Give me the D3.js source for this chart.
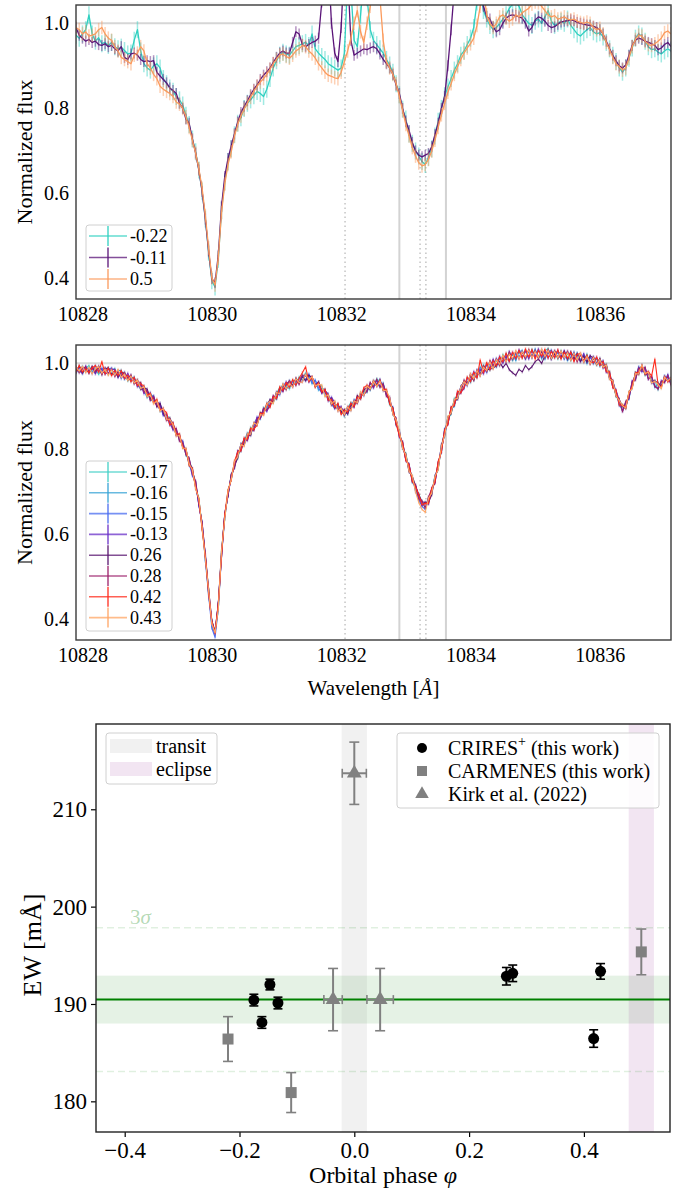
<!DOCTYPE html>
<html><head><meta charset="utf-8">
<script src="https://cdn.jsdelivr.net/npm/d3@7"></script>
<style>body{margin:0;background:#fff;} svg{display:block;} text{font-family:"Liberation Serif","Times New Roman",serif !important;}</style>
</head><body><svg id="c" width="688" height="1191"></svg>
<script>
// ---------------- DATA ----------------
// wavelength grid of the spectra (Angstrom): start and pixel step
const waveStart = 10827.9, waveStep = 0.05;
// fluxes in thousandths of normalized flux
// top panel (CARMENES) phases
const topLabels = ["-0.22", "-0.11", "0.5"];
const fluxTopM022 = [
972,965,975,985,1020,975,958,966,952,955, 948,955,945,940,944,936,928,930,960,985,
935,905,895,890,900,905,895,870,858,848, 840,828,820,808,784,762,728,698,655,605,
540,462,395,380,445,560,628,675,705,738, 765,778,800,812,820,830,840,835,828,845,
870,895,912,925,932,928,925,935,945,948, 952,955,948,975,940,930,922,915,905,900,
895,890,895,930,1100,1080,960,945,1020,1100, 1060,985,960,950,940,930,915,902,885,858,
832,798,775,740,718,700,688,675,668,685, 705,735,770,800,830,850,870,890,905,925,
935,950,965,990,1050,1080,1030,1010,995,985, 990,1000,1010,1020,1035,1045,1050,1040,1020,1010,
1000,995,1005,1010,1000,1015,1030,1005,995,1000, 1005,1000,1010,995,985,975,970,978,985,990,
980,975,978,968,955,940,925,910,895,885, 895,918,942,965,975,970,958,945,938,940,
932,928,935,940,935];
const fluxTopM011 = [
990,972,965,958,962,955,958,950,948,952, 945,948,940,935,945,920,915,928,930,925,
915,910,912,910,912,885,876,868,860,848, 842,835,812,800,775,765,728,695,655,605,
540,465,400,390,455,570,640,682,712,740, 768,790,805,818,832,845,855,868,878,886,
895,908,920,930,935,930,930,955,980,975, 950,945,950,955,958,965,1050,1200,1150,1000,
930,910,990,1150,1120,960,925,930,935,940, 938,942,945,940,928,915,905,895,880,855,
835,800,770,748,720,700,690,686,690,694, 710,738,765,800,828,900,985,1080,1250,1300,
1300,1300,1300,1300,1300,1150,1040,1016,1010,992, 980,985,1000,1012,1018,1020,1018,1015,1012,1000,
982,990,1008,1015,1012,1005,995,990,992,998, 1003,1005,1006,1008,1006,1002,1000,998,996,995,
993,990,985,975,958,940,925,912,900,895, 902,925,948,960,965,962,958,955,952,948,
938,942,950,955,945];
const fluxTop05 = [
990,985,975,980,970,972,975,985,990,975, 965,960,945,935,920,915,910,905,925,930,
945,935,905,895,880,870,852,845,840,835, 828,815,810,800,780,755,725,695,658,612,
548,472,402,385,448,555,622,668,698,735, 762,782,798,812,826,840,852,862,870,880,
892,905,915,925,928,922,918,925,935,940, 948,945,935,928,918,905,895,885,878,875,
872,870,885,910,935,965,1000,1030,980,955, 1000,1040,1080,1100,1060,960,910,895,880,858,
828,795,762,735,708,688,672,665,668,680, 700,725,755,785,812,838,858,880,898,915,
930,942,952,965,995,1040,1080,1020,1000,990, 1000,1015,1020,1012,1005,1010,1020,1015,1025,1030,
1035,1045,1050,1048,1040,1030,1020,1015,1018,1010, 1012,1015,1010,1008,1010,1005,1002,1000,1003,1000,
990,985,988,975,955,938,920,905,898,890, 895,918,945,962,972,970,958,950,948,952,
958,965,978,982,975];
const topErrors = [0.020, 0.013, 0.016];

// bottom panel (CRIRES+) phases
const botLabels = ["-0.17","-0.16","-0.15","-0.13","0.26","0.28","0.42","0.43"];
const fluxBotM017 = [
980,992,976,988,995,980,987,974,988,983, 974,984,988,970,972,979,959,967,965,948,
954,935,920,927,923,900,900,879,879,871, 846,844,821,817,785,773,751,710,684,617,
549,459,397,370,422,561,636,702,727,765, 777,807,823,824,850,845,867,870,896,895,
912,907,929,944,938,949,940,960,953,968, 960,978,959,963,945,952,947,924,922,903,
910,891,892,876,896,908,902,920,918,937, 932,952,948,964,957,939,937,903,893,860,
840,800,789,751,736,703,694,674,661,685, 697,736,751,805,832,870,881,918,920,941,
959,952,969,960,982,977,996,982,1000,991, 1007,996,1021,1007,1023,1006,1022,1028,1013,1031,
1013,1033,1016,1031,1010,1029,1035,1012,1026,1010, 1030,1012,1023,1006,1024,1011,1022,1005,1022,1000,
1013,996,1010,993,998,966,956,922,913,902, 896,933,946,979,976,993,972,978,959,960,
938,956,957,973,954];
const fluxBotM016 = [
988,979,993,983,980,992,981,989,974,988, 989,975,975,983,984,963,972,958,968,949,
940,947,934,914,911,913,888,893,870,866, 859,835,833,803,797,761,748,722,669,628,
540,472,386,365,436,551,648,690,738,755, 792,794,818,837,834,859,855,881,883,907,
899,920,916,938,951,941,960,949,963,955, 973,962,970,952,960,937,942,938,915,918,
898,904,883,889,881,901,913,907,931,929, 946,937,958,951,945,954,925,918,881,867,
829,815,775,762,721,711,679,668,675,673, 706,723,767,792,847,860,894,899,932,934,
943,967,955,976,967,992,980,997,984,1007, 991,1012,1003,1023,1006,1022,1006,1027,1030,1014,
1030,1016,1034,1012,1029,1009,1027,1031,1013,1026, 1011,1027,1006,1023,1009,1025,1008,1020,999,1015,
999,1011,993,1005,982,981,945,936,904,889, 909,916,956,962,992,983,990,965,968,943,
952,943,970,960,963];
const fluxBotM015 = [
976,990,991,980,988,976,995,981,989,975, 986,989,971,980,964,977,965,972,953,960,
942,944,921,932,909,909,906,880,880,855, 861,832,830,805,800,765,737,719,668,625,
537,458,380,358,424,550,637,699,729,768, 781,811,808,832,832,858,873,871,890,889,
914,911,931,926,946,957,944,958,948,964, 970,960,975,955,961,943,930,936,929,905,
894,900,897,879,893,890,915,911,931,924, 948,941,957,946,963,941,935,906,897,855,
843,801,785,747,734,700,681,665,658,682, 694,737,756,807,830,872,886,915,916,946,
956,947,973,965,985,971,991,978,1004,994, 1012,999,1014,1002,1028,1009,1024,1015,1029,1009,
1028,1012,1031,1016,1033,1014,1027,1009,1029,1024, 1026,1009,1027,1012,1027,1007,1020,1002,1015,1002,
1016,1000,1009,989,992,964,958,935,901,899, 897,931,942,977,977,997,977,980,953,958,
953,945,971,962,966];
const fluxBotM013 = [
992,983,976,994,981,988,975,990,985,976, 977,986,986,967,979,964,977,960,966,945,
951,929,937,918,924,900,902,878,881,861, 844,845,820,818,788,777,739,720,667,626,
551,461,394,367,435,548,646,689,736,757, 795,796,820,819,844,844,874,871,893,888,
901,923,918,941,934,952,957,945,960,954, 957,973,956,968,950,956,933,934,912,921,
908,889,898,882,884,906,897,921,920,940, 934,954,942,960,946,951,926,921,882,870,
828,813,772,764,725,713,690,667,673,670, 708,721,765,794,845,857,895,903,933,932,
941,965,960,981,968,986,975,998,989,1010, 993,1017,1000,1018,1004,1026,1011,1032,1015,1029,
1010,1030,1015,1034,1013,1028,1012,1030,1015,1031, 1014,1030,1010,1024,1006,1020,1004,1023,1003,1017,
1000,1014,998,1006,979,978,944,937,914,888, 907,918,959,964,991,980,988,963,969,947,
941,959,956,974,951];
const fluxBot026 = [
981,994,978,988,977,991,980,994,976,986, 990,974,982,968,980,976,961,970,955,962,
939,942,940,916,919,898,907,884,868,872, 857,831,832,804,798,766,754,708,680,614,
552,470,398,372,438,558,645,691,739,759, 779,811,810,834,831,860,860,885,881,902,
915,909,933,931,950,938,955,947,966,953, 969,959,972,967,946,957,933,939,916,917,
895,905,885,892,881,903,900,925,917,938, 944,939,960,949,961,936,936,908,895,857,
841,802,787,746,735,714,692,676,674,674, 692,734,753,809,833,874,883,912,916,945,
958,953,975,961,981,972,994,984,987,988, 996,1004,990,1000,985,978,972,986,980,995,
985,992,1004,1010,1000,1018,1028,1010,1024,1015, 1015,1028,1010,1027,1010,1023,1004,1017,1003,1018,
1012,997,1012,992,995,967,960,924,915,899, 894,930,944,978,974,995,974,977,956,959,
954,946,968,958,963];
const fluxBot028 = [
990,978,987,992,980,993,981,990,973,990, 975,987,969,981,971,979,963,973,952,957,
955,933,936,913,921,902,892,895,866,870, 847,848,818,813,786,778,741,724,670,627,
548,471,396,371,436,552,647,692,737,756, 794,798,824,821,845,843,870,872,895,891,
902,924,919,942,935,951,959,948,962,951, 972,972,959,969,949,953,931,935,927,902,
909,892,897,878,899,892,911,906,929,927, 935,955,945,963,944,952,923,917,882,871,
831,816,774,763,723,715,681,678,661,687, 705,719,768,795,844,859,898,902,930,930,
961,950,971,960,984,974,992,981,1007,993, 1010,994,1016,1006,1027,1009,1028,1010,1026,1011,
1033,1015,1030,1011,1028,1013,1033,1015,1030,1012, 1028,1014,1029,1008,1022,1003,1021,1006,1019,998,
1015,999,1008,990,997,965,957,925,917,887, 911,919,957,961,989,984,991,963,970,946,
940,958,955,971,949];
const fluxBot042 = [
979,995,980,987,978,989,995,979,1004,975, 989,971,983,972,983,965,972,957,967,948,
952,947,925,930,907,916,892,892,884,856, 861,834,835,803,799,761,753,709,682,611,
547,462,393,369,434,550,645,703,726,771, 792,795,825,823,848,846,855,883,882,906,
897,921,918,945,938,955,944,962,949,965, 978,992,958,966,944,954,934,939,914,915,
897,906,880,890,886,907,899,921,917,943, 949,942,957,947,960,939,939,905,894,858,
830,812,773,761,725,710,693,669,672,672, 707,724,769,793,843,858,896,903,935,932,
944,968,957,979,966,1008,978,1002,985,1006, 994,1015,1004,1024,1005,1026,1012,1030,1012,1034,
1015,1032,1010,1030,1017,1033,1013,1028,1013,1032, 1010,1026,1012,1026,1004,1021,1023,1004,1018,1003,
1002,1015,995,1004,981,980,943,937,902,903, 896,932,945,978,979,994,975,981,970,1010,
950,944,969,957,964];
const fluxBot043 = [
991,982,993,978,991,975,988,992,977,986, 972,985,972,986,967,975,960,970,954,961,
941,945,922,926,905,912,888,894,869,869, 856,830,831,801,801,764,750,706,683,615,
542,469,390,369,424,561,635,701,728,770, 781,810,806,835,834,861,856,880,878,904,
911,906,932,929,952,940,954,944,964,955, 956,974,961,969,947,951,949,922,926,905,
912,888,895,880,898,889,912,908,934,925, 947,940,959,946,958,937,936,920,881,868,
842,801,786,747,737,699,674,658,651,684, 696,735,751,806,831,875,884,916,918,944,
957,949,976,964,983,970,991,983,1004,987, 1009,998,1019,1003,1021,1012,1030,1011,1027,1015,
1031,1013,1028,1014,1034,1016,1030,1011,1028,1013, 1029,1013,1025,1007,1024,1008,1024,1003,1016,999,
1014,997,1009,991,996,963,959,924,913,901, 895,933,941,976,975,997,976,979,954,958,
951,941,968,959,966];
const botErrors = [0.004,0.004,0.004,0.004,0.004,0.004,0.004,0.004];

// spectral markers (Angstrom)
const waveTicks = [10828, 10830, 10832, 10834, 10836];
const fluxTicks = [0.4, 0.6, 0.8, 1.0];
const heTriplet = [10832.06, 10833.22, 10833.31];
const integrationEdges = [10832.90, 10833.62];

// equivalent widths (mA) vs orbital phase
const crPhase = [-0.175, -0.161, -0.147, -0.133, 0.265, 0.276, 0.417, 0.429];
const crEW    = [190.4, 188.1, 192.0, 190.1, 192.85, 193.15, 186.45, 193.35];
const crErr   = [0.6, 0.6, 0.55, 0.6, 0.9, 0.85, 0.9, 0.8];
const carPhase = [-0.22, -0.11, 0.5];
const carEW    = [186.4, 180.9, 195.35];
const carErr   = [2.3, 2.05, 2.35];
const kirkPhase    = [-0.037, 0.0, 0.045];
const kirkEW       = [190.45, 213.7, 190.45];
const kirkErr      = [3.2, 3.2, 3.2];
const kirkPhaseErr = [0.016, 0.021, 0.023];
const ewMean = 190.45, ewSigma = 2.46;
const transitWindow = [-0.022, 0.022];
const eclipseWindow = [0.478, 0.522];
const phaseTicks = [-0.4, -0.2, 0.0, 0.2, 0.4];
const ewTicks = [180, 190, 200, 210];

// ---------------- STYLE ----------------
const topColors = ["#2fd0c0", "#5a1478", "#fb9a5c"];
const botColors = ["#42cfc6", "#36a3d6", "#4a6cf0", "#6a30c8", "#5a1670", "#9c1f6a", "#ff2b1c", "#ffa564"];

const svg = d3.select("#c");
const defs = svg.append("defs");

function specPanel(top, bottom, fluxes, errs, colors, labels, errOpacity, lineW, legendBox) {
  const L = 76, R = 671;
  const x = d3.scaleLinear().domain([10827.9, 10837.1]).range([L, R]);
  const y = d3.scaleLinear().domain([0.352, 1.043]).range([bottom, top]);
  const cid = "clip" + top;
  defs.append("clipPath").attr("id", cid).append("rect")
    .attr("x", L).attr("y", top).attr("width", R - L).attr("height", bottom - top);
  const g = svg.append("g");
  const ref = g.append("g").attr("clip-path", `url(#${cid})`);
  ref.append("line").attr("x1", L).attr("x2", R).attr("y1", y(1)).attr("y2", y(1))
    .attr("stroke", "#d6d6d6").attr("stroke-width", 2);
  ref.selectAll(".edge").data(integrationEdges).join("line")
    .attr("x1", d => x(d)).attr("x2", d => x(d)).attr("y1", top).attr("y2", bottom)
    .attr("stroke", "#d3d3d3").attr("stroke-width", 2);
  ref.selectAll(".he").data(heTriplet).join("line")
    .attr("x1", d => x(d)).attr("x2", d => x(d)).attr("y1", top).attr("y2", bottom)
    .attr("stroke", "#c4c4c4").attr("stroke-width", 1.5).attr("stroke-dasharray", "1.5,3");

  const plot = g.append("g").attr("clip-path", `url(#${cid})`);
  const wl = i => waveStart + i * waveStep;
  const line = d3.line().x((d, i) => x(wl(i))).y(d => y(d / 1000));
  fluxes.forEach((f, k) => {
    const s = plot.append("g");
    s.selectAll("line").data(f).join("line")
      .attr("x1", (d, i) => x(wl(i))).attr("x2", (d, i) => x(wl(i)))
      .attr("y1", d => y(d / 1000 - errs[k])).attr("y2", d => y(d / 1000 + errs[k]))
      .attr("stroke", colors[k]).attr("stroke-opacity", errOpacity).attr("stroke-width", 1.5);
    s.append("path").datum(f).attr("d", line).attr("fill", "none")
      .attr("stroke", colors[k]).attr("stroke-width", lineW).attr("stroke-linejoin", "round");
  });

  // axes
  const xa = g.append("g").attr("transform", `translate(0,${bottom})`)
    .call(d3.axisBottom(x).tickValues(waveTicks).tickFormat(d3.format("d")).tickSize(0).tickPadding(8));
  const ya = g.append("g").attr("transform", `translate(${L},0)`)
    .call(d3.axisLeft(y).tickValues(fluxTicks).tickFormat(d3.format(".1f")).tickSize(0).tickPadding(7));
  [xa, ya].forEach(a => {
    a.select(".domain").remove();
    a.selectAll("text").attr("font-size", 20).attr("fill", "#000");
  });
  g.append("text").attr("transform", `translate(24,${(top + bottom) / 2}) rotate(-90)`)
    .attr("text-anchor", "middle").attr("dominant-baseline", "central")
    .attr("font-size", 22).text("Normalized flux");
  g.append("rect").attr("x", L).attr("y", top).attr("width", R - L).attr("height", bottom - top)
    .attr("fill", "none").attr("stroke", "#3a3a3a").attr("stroke-width", 1.4);

  // legend
  const lg = g.append("g");
  lg.append("rect").attr("x", legendBox[0]).attr("y", legendBox[1])
    .attr("width", legendBox[2]).attr("height", legendBox[3]).attr("rx", 3)
    .attr("fill", "#fff").attr("fill-opacity", 0.85).attr("stroke", "#d0d0d0");
  labels.forEach((lab, k) => {
    const yy = legendBox[1] + 11 + k * legendBox[4];
    lg.append("line").attr("x1", 89).attr("x2", 127).attr("y1", yy).attr("y2", yy)
      .attr("stroke", colors[k]).attr("stroke-width", 1.6).attr("stroke-opacity", 0.75);
    lg.append("line").attr("x1", 108).attr("x2", 108).attr("y1", yy - 10).attr("y2", yy + 10)
      .attr("stroke", colors[k]).attr("stroke-width", 1.3);
    lg.append("text").attr("x", 130).attr("y", yy).attr("dominant-baseline", "central")
      .attr("font-size", 18).text(lab);
  });
  return g;
}

specPanel(5, 299, [fluxTopM022, fluxTopM011, fluxTop05], topErrors, topColors, topLabels,
  0.45, 1.3, [86, 225, 86, 66, 21.5]);
specPanel(345, 640,
  [fluxBotM017, fluxBotM016, fluxBotM015, fluxBotM013, fluxBot026, fluxBot028, fluxBot042, fluxBot043],
  botErrors, botColors, botLabels, 0.3, 1.1, [86, 461, 86, 170, 20.8]);

svg.append("text").attr("x", 373.5).attr("y", 688).attr("text-anchor", "middle")
  .attr("dominant-baseline", "central").attr("font-size", 21)
  .call(t => { t.append("tspan").text("Wavelength ["); t.append("tspan").attr("font-style", "italic").text("Å"); t.append("tspan").text("]"); });

// ---------------- EW panel ----------------
(function () {
  const L = 96, R = 670, T = 724, B = 1132;
  const x = d3.scaleLinear().domain([-0.45, 0.55]).range([L, R]);
  const y = d3.scaleLinear().domain([176.85, 218.76]).range([B, T]);
  defs.append("clipPath").attr("id", "clipEW").append("rect")
    .attr("x", L).attr("y", T).attr("width", R - L).attr("height", B - T);
  const g = svg.append("g");
  const bg = g.append("g").attr("clip-path", "url(#clipEW)");
  bg.append("rect").attr("x", L).attr("width", R - L)
    .attr("y", y(ewMean + ewSigma)).attr("height", y(ewMean - ewSigma) - y(ewMean + ewSigma))
    .attr("fill", "#008000").attr("fill-opacity", 0.1);
  bg.append("rect").attr("x", x(transitWindow[0])).attr("width", x(transitWindow[1]) - x(transitWindow[0]))
    .attr("y", T).attr("height", B - T).attr("fill", "#808080").attr("fill-opacity", 0.11);
  bg.append("rect").attr("x", x(eclipseWindow[0])).attr("width", x(eclipseWindow[1]) - x(eclipseWindow[0]))
    .attr("y", T).attr("height", B - T).attr("fill", "#800080").attr("fill-opacity", 0.1);
  [ewMean + 3 * ewSigma, ewMean - 3 * ewSigma].forEach(v => {
    bg.append("line").attr("x1", L).attr("x2", R).attr("y1", y(v)).attr("y2", y(v))
      .attr("stroke", "#008000").attr("stroke-opacity", 0.12).attr("stroke-width", 1.6)
      .attr("stroke-dasharray", "7,4");
  });
  bg.append("line").attr("x1", L).attr("x2", R).attr("y1", y(ewMean)).attr("y2", y(ewMean))
    .attr("stroke", "#008000").attr("stroke-width", 2);
  g.append("text").attr("x", 130).attr("y", y(ewMean + 3 * ewSigma) - 11)
    .attr("dominant-baseline", "central").attr("font-size", 21).attr("fill", "#008000").attr("fill-opacity", 0.3)
    .call(t => { t.append("tspan").text("3"); t.append("tspan").attr("font-style", "italic").text("σ"); });

  function errY(sel, px, py, pe, col, cap) {
    px.forEach((p, i) => {
      sel.append("line").attr("x1", x(p)).attr("x2", x(p)).attr("y1", y(py[i] - pe[i])).attr("y2", y(py[i] + pe[i]))
        .attr("stroke", col).attr("stroke-width", 2);
      [py[i] - pe[i], py[i] + pe[i]].forEach(v => sel.append("line")
        .attr("x1", x(p) - cap).attr("x2", x(p) + cap).attr("y1", y(v)).attr("y2", y(v))
        .attr("stroke", col).attr("stroke-width", 1.6));
    });
  }
  const pts = g.append("g").attr("clip-path", "url(#clipEW)");
  kirkPhase.forEach((p, i) => {
    pts.append("line").attr("x1", x(p - kirkPhaseErr[i])).attr("x2", x(p + kirkPhaseErr[i]))
      .attr("y1", y(kirkEW[i])).attr("y2", y(kirkEW[i])).attr("stroke", "#808080").attr("stroke-width", 2);
    [p - kirkPhaseErr[i], p + kirkPhaseErr[i]].forEach(v => pts.append("line")
      .attr("x1", x(v)).attr("x2", x(v)).attr("y1", y(kirkEW[i]) - 4.5).attr("y2", y(kirkEW[i]) + 4.5)
      .attr("stroke", "#808080").attr("stroke-width", 1.6));
  });
  errY(pts, kirkPhase, kirkEW, kirkErr, "#808080", 5);
  pts.selectAll(".tri").data(kirkPhase).join("path")
    .attr("transform", (d, i) => `translate(${x(d)},${y(kirkEW[i])})`)
    .attr("d", d3.symbol(d3.symbolTriangle, 95)).attr("fill", "#808080");
  errY(pts, carPhase, carEW, carErr, "#808080", 5);
  pts.selectAll(".sq").data(carPhase).join("rect")
    .attr("x", d => x(d) - 5.5).attr("y", (d, i) => y(carEW[i]) - 5.5).attr("width", 11).attr("height", 11)
    .attr("fill", "#808080");
  errY(pts, crPhase, crEW, crErr, "#000", 4.5);
  pts.selectAll(".ci").data(crPhase).join("circle")
    .attr("cx", d => x(d)).attr("cy", (d, i) => y(crEW[i])).attr("r", 5.5).attr("fill", "#000");

  const xa = g.append("g").attr("transform", `translate(0,${B})`)
    .call(d3.axisBottom(x).tickValues(phaseTicks).tickFormat(d3.format(".1f")).tickSize(5).tickPadding(5));
  const ya = g.append("g").attr("transform", `translate(${L},0)`)
    .call(d3.axisLeft(y).tickValues(ewTicks).tickFormat(d3.format("d")).tickSize(5).tickPadding(4));
  [xa, ya].forEach(a => {
    a.select(".domain").remove();
    a.selectAll("line").attr("stroke", "#000").attr("stroke-width", 1.2);
    a.selectAll("text").attr("font-size", 23).attr("fill", "#000");
  });
  g.append("rect").attr("x", L).attr("y", T).attr("width", R - L).attr("height", B - T)
    .attr("fill", "none").attr("stroke", "#222").attr("stroke-width", 1.4);
  g.append("text").attr("x", (L + R) / 2).attr("y", 1175).attr("text-anchor", "middle")
    .attr("dominant-baseline", "central").attr("font-size", 24)
    .call(t => { t.append("tspan").text("Orbital phase "); t.append("tspan").attr("font-style", "italic").text("φ"); });
  g.append("text").attr("transform", `translate(32,945) rotate(-90)`)
    .attr("text-anchor", "middle").attr("dominant-baseline", "central").attr("font-size", 26)
    .text("EW [mÅ]");

  const l1 = g.append("g");
  l1.append("rect").attr("x", 106).attr("y", 733).attr("width", 111).attr("height", 51).attr("rx", 3)
    .attr("fill", "#fff").attr("fill-opacity", 0.85).attr("stroke", "#d0d0d0");
  [["transit", "#808080", 0.11], ["eclipse", "#800080", 0.1]].forEach((e, k) => {
    const yy = 746 + k * 23;
    l1.append("rect").attr("x", 110).attr("y", yy - 7).attr("width", 42).attr("height", 14)
      .attr("fill", e[1]).attr("fill-opacity", e[2]);
    l1.append("text").attr("x", 156).attr("y", yy).attr("dominant-baseline", "central")
      .attr("font-size", 20).text(e[0]);
  });
  const l2 = g.append("g");
  l2.append("rect").attr("x", 397).attr("y", 733).attr("width", 262).attr("height", 75).attr("rx", 3)
    .attr("fill", "#fff").attr("fill-opacity", 0.85).attr("stroke", "#d0d0d0");
  const mx = 422;
  l2.append("circle").attr("cx", mx).attr("cy", 748).attr("r", 5).attr("fill", "#000");
  l2.append("rect").attr("x", mx - 5).attr("y", 766).attr("width", 10).attr("height", 10).attr("fill", "#808080");
  l2.append("path").attr("transform", `translate(${mx},794)`).attr("d", d3.symbol(d3.symbolTriangle, 80)).attr("fill", "#808080");
  l2.append("text").attr("x", 448).attr("y", 748).attr("dominant-baseline", "central").attr("font-size", 20)
    .call(t => {
      t.append("tspan").text("CRIRES");
      t.append("tspan").attr("font-size", 14).attr("dy", -7).text("+");
      t.append("tspan").attr("dy", 7).text(" (this work)");
    });
  l2.append("text").attr("x", 448).attr("y", 771).attr("dominant-baseline", "central").attr("font-size", 20)
    .text("CARMENES (this work)");
  l2.append("text").attr("x", 448).attr("y", 794).attr("dominant-baseline", "central").attr("font-size", 20)
    .text("Kirk et al. (2022)");
})();
</script></body></html>
